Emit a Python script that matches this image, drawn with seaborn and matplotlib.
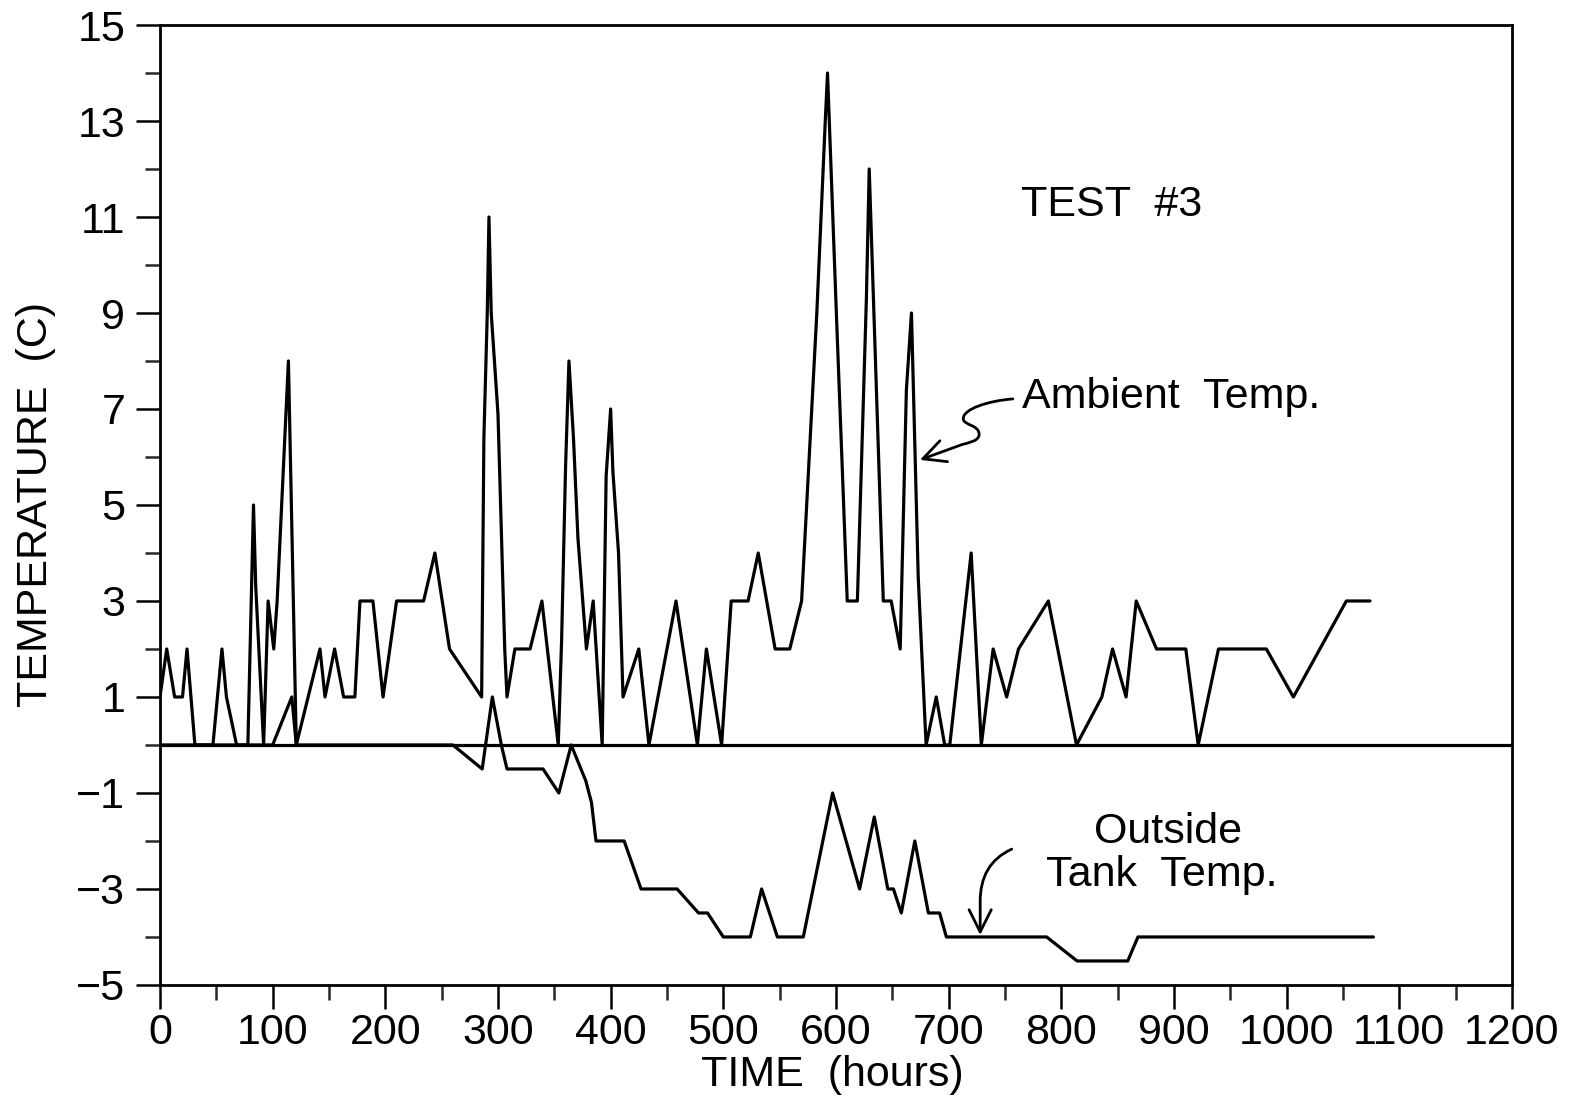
import numpy as np
import pandas as pd
import matplotlib
matplotlib.use("Agg")
import matplotlib.pyplot as plt
import seaborn as sns
from matplotlib.path import Path
from matplotlib.patches import FancyArrowPatch
from matplotlib.ticker import MultipleLocator

# ---------------- data ----------------
ambient_hours = [0, 6, 13, 20, 24, 31, 47, 55, 59, 68, 78, 83, 85, 92, 96, 101, 104, 114, 121,
                 142, 146.5, 155, 163, 173, 177.5, 189, 198, 210, 234, 244, 257, 285.5, 287.5,
                 290.5, 292, 294, 300, 306, 308, 315, 328.5, 339, 353.5, 356.5, 360, 363, 367,
                 371, 378.5, 384.5, 392.5, 396, 400, 402, 407, 411, 425, 434, 458, 477, 485,
                 498.5, 507, 522, 531, 546, 559, 569.5, 583, 590.5, 592.5, 600.5, 606.5, 610,
                 619, 627, 629.5, 642, 649, 657, 662.5, 667, 673, 680, 689, 696.5, 701, 720,
                 729, 739.5, 751.5, 762, 788.5, 813.5, 836, 845.5, 857.5, 866.5, 884.5, 910.5,
                 921.5, 939.5, 982, 1006, 1053, 1074]
ambient_temp = [1, 2, 1, 1, 2, 0, 0, 2, 1, 0, 0, 5, 3.3, 0, 3, 2, 3, 8, 0,
                2, 1, 2, 1, 1, 3, 3, 1, 3, 3, 4, 2, 1, 6.4,
                9, 11, 9, 6.9, 2, 1, 2, 2, 3, 0, 2.2, 5.8, 8, 6.4,
                4.3, 2, 3, 0, 5.6, 7, 5.7, 4, 1, 2, 0, 3, 0, 2,
                0, 3, 3, 4, 2, 2, 3, 9, 13, 14, 8.9, 5.2, 3,
                3, 9.3, 12, 3, 3, 2, 7.4, 9, 3.5, 0, 1, 0, 0, 4,
                0, 2, 1, 2, 3, 0, 1, 2, 1, 3, 2, 2,
                0, 2, 2, 1, 3, 3]

tank_hours = [0, 100, 117, 121, 260, 286, 295, 303, 308, 340, 354, 365, 378, 383, 387, 412,
              427, 459, 478, 486, 500, 524, 534, 548, 571, 597, 621, 634, 646, 651, 658, 670,
              682, 692, 698, 787, 814, 859, 868, 1077]
tank_temp = [0, 0, 1, 0, 0, -0.5, 1, 0, -0.5, -0.5, -1, 0, -0.75, -1.2, -2, -2,
             -3, -3, -3.5, -3.5, -4, -4, -3, -4, -4, -1, -3, -1.5, -3, -3, -3.5, -2,
             -3.5, -3.5, -4, -4, -4.5, -4.5, -4, -4]

x_ticks = list(range(0, 1201, 100))
y_ticks = list(range(-5, 16, 2))

# ---------------- style ----------------
sns.set_theme(style="ticks")
plt.rcParams['font.family'] = ['Liberation Sans', 'DejaVu Sans']
plt.rcParams['axes.unicode_minus'] = True

FS = 31
LW = 2.3

fig = plt.figure(figsize=(15.73, 11.02), dpi=100)
ax = fig.add_axes([0.1017, 0.1062, 0.8595, 0.8711])

amb = pd.DataFrame({"hours": ambient_hours, "temp": ambient_temp})
tank = pd.DataFrame({"hours": tank_hours, "temp": tank_temp})

ax.axhline(0, color="black", lw=LW, zorder=1)
sns.lineplot(data=amb, x="hours", y="temp", ax=ax, color="black", lw=LW,
             estimator=None, sort=False)
sns.lineplot(data=tank, x="hours", y="temp", ax=ax, color="black", lw=LW,
             estimator=None, sort=False)

ax.set_xlim(0, 1200)
ax.set_ylim(-5, 15)
ax.set_xticks(x_ticks)
ax.set_yticks(y_ticks)
ax.xaxis.set_minor_locator(MultipleLocator(50))
ax.yaxis.set_minor_locator(MultipleLocator(1))

for s in ax.spines.values():
    s.set_visible(True)
    s.set_linewidth(2.0)
    s.set_color("black")

ax.tick_params(axis="both", which="major", direction="out", length=17, width=1.8,
               labelsize=FS, colors="black")
ax.tick_params(axis="both", which="minor", direction="out", length=11, width=1.8)
ax.tick_params(axis="y", which="major", pad=8)
ax.tick_params(axis="x", which="major", pad=3)

ax.set_xlabel("TIME  (hours)", fontsize=FS, color="black")
ax.set_ylabel("TEMPERATURE  (C)", fontsize=FS, color="black")
ax.xaxis.set_label_coords(0.497, -0.073)
ax.yaxis.set_label_coords(-0.0766, 0.501)

# ---------------- annotations ----------------
ax.text(845, 11.25, "TEST  #3", fontsize=FS, ha="center", va="center", color="black")
ax.text(765, 7.25, "Ambient  Temp.", fontsize=FS, ha="left", va="center", color="black")
ax.text(895, -1.81, "Outside", fontsize=FS, ha="center", va="center", color="black")
ax.text(889, -2.71, "Tank  Temp.", fontsize=FS, ha="center", va="center", color="black")

amb_arrow_path = Path(
    [(757, 7.21), (735, 7.17), (713, 7.0), (713, 6.80),
     (713, 6.65), (728, 6.68), (727, 6.45),
     (726, 6.33), (718, 6.30), (712, 6.26),
     (674.5, 5.94)],
    [Path.MOVETO, Path.CURVE4, Path.CURVE4, Path.CURVE4,
     Path.CURVE4, Path.CURVE4, Path.CURVE4,
     Path.CURVE4, Path.CURVE4, Path.CURVE4,
     Path.LINETO])
ax.add_patch(FancyArrowPatch(path=amb_arrow_path, arrowstyle="->", mutation_scale=40,
                             lw=2.0, color="black"))

tank_arrow_path = Path(
    [(756, -2.17), (736.5, -2.38), (728, -2.75), (728, -3.27), (728, -3.96)],
    [Path.MOVETO, Path.CURVE4, Path.CURVE4, Path.CURVE4, Path.LINETO])
ax.add_patch(FancyArrowPatch(path=tank_arrow_path, arrowstyle="->", mutation_scale=40,
                             lw=2.0, color="black"))

fig.savefig("out.png", dpi=100, facecolor="white")
